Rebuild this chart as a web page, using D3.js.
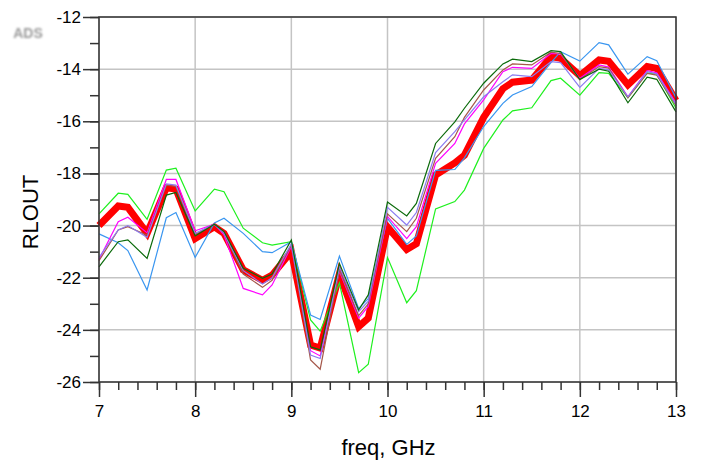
<!DOCTYPE html>
<html>
<head>
<meta charset="utf-8">
<title>RLOUT vs freq</title>
<script src="https://d3js.org/d3.v7.min.js"></script>
<style>
  body { margin: 0; background: #fff; }
  svg text { font-family: "Liberation Sans", Arial, sans-serif; fill: #000; }
</style>
</head>
<body>
<svg id="chart" width="703" height="465"></svg>
<script>
// frequency points (GHz)
var freq = [7.0,7.2,7.3,7.5,7.7,7.8,8.0,8.2,8.3,8.5,8.7,8.8,9.0,9.2,9.3,9.5,9.7,9.8,
            10.0,10.2,10.3,10.5,10.7,10.8,11.0,11.2,11.3,11.5,11.7,11.8,12.0,12.2,12.3,12.5,12.7,12.8,13.0];

// RLOUT traces (dB)
var rlRed = [-20.0,-19.25,-19.3,-20.3,-18.55,-18.6,-20.5,-20.05,-20.3,-21.7,-22.1,-21.9,-21.0,-24.58,-24.7,-21.85,-23.88,-23.55,
             -20.05,-20.92,-20.7,-18.06,-17.6,-17.3,-15.85,-14.75,-14.5,-14.42,-13.52,-13.58,-14.25,-13.65,-13.7,-14.6,-13.9,-13.97,-15.2];
var rlGreen = [-19.55,-18.76,-18.8,-19.76,-17.87,-17.8,-19.44,-18.6,-18.7,-20.1,-20.66,-20.75,-20.62,-23.62,-24.05,-22.2,-25.64,-25.32,
               -21.23,-22.96,-22.5,-19.36,-19.08,-18.64,-17.04,-15.95,-15.6,-15.48,-14.44,-14.35,-15.0,-14.13,-14.16,-15.1,-14.14,-14.19,-15.5];
var rlBlue = [-20.32,-20.66,-20.96,-22.47,-19.7,-19.5,-21.22,-19.9,-19.72,-20.3,-21.0,-21.04,-20.62,-23.43,-23.6,-21.17,-23.18,-22.8,
              -19.72,-20.72,-20.4,-17.88,-17.85,-17.4,-16.2,-15.31,-14.99,-14.67,-13.75,-13.33,-13.69,-12.98,-13.07,-14.19,-13.52,-13.68,-15.1];
var rlMagenta = [-21.3,-19.85,-19.68,-20.28,-18.23,-18.23,-20.2,-19.95,-20.36,-22.41,-22.66,-22.28,-20.8,-24.8,-25.0,-21.75,-23.55,-23.1,
                 -19.65,-20.5,-20.04,-17.61,-16.85,-16.1,-15.18,-14.1,-13.93,-13.97,-13.4,-13.42,-14.35,-13.84,-13.92,-15.06,-14.06,-14.14,-15.3];
var rlBrown = [-21.35,-20.17,-20.04,-20.37,-18.45,-18.5,-20.35,-19.95,-20.3,-21.86,-22.37,-22.1,-20.75,-25.15,-25.51,-21.7,-23.45,-23.0,
               -19.55,-20.23,-19.72,-17.42,-16.59,-15.85,-14.8,-14.03,-13.8,-13.84,-13.35,-13.4,-14.4,-13.9,-13.96,-15.1,-14.16,-14.23,-15.4];
var rlViolet = [-21.22,-20.17,-20.0,-20.45,-18.4,-18.45,-20.3,-19.95,-20.3,-21.73,-22.24,-22.0,-20.7,-24.97,-25.1,-21.58,-23.3,-22.9,
                -19.3,-19.98,-19.5,-17.2,-16.4,-15.95,-15.06,-14.48,-14.22,-14.29,-13.71,-13.75,-14.7,-13.97,-14.03,-15.06,-14.1,-14.18,-15.35];
var rlDkGreen = [-21.58,-20.62,-20.55,-21.26,-18.83,-18.73,-20.4,-19.95,-20.23,-21.64,-22.02,-21.86,-20.55,-24.65,-24.77,-21.45,-23.24,-22.66,
                 -19.1,-19.63,-19.15,-16.85,-16.02,-15.5,-14.54,-13.8,-13.62,-13.71,-13.29,-13.33,-14.4,-14.0,-14.08,-15.29,-14.31,-14.39,-15.64];

// axis ticks
var xTicks = [7, 8, 9, 10, 11, 12, 13];
var yTicks = [-26, -24, -22, -20, -18, -16, -14, -12];

var svg = d3.select("#chart"),
    margin = {left: 99, right: 27, top: 17, bottom: 83},
    width = +svg.attr("width") - margin.left - margin.right,
    height = +svg.attr("height") - margin.top - margin.bottom;

var x = d3.scaleLinear().domain([7, 13]).range([0, width]);
var y = d3.scaleLinear().domain([-26, -12]).range([height, 0]);

var g = svg.append("g")
    .attr("transform", "translate(" + margin.left + "," + margin.top + ")");

// grid
g.append("g").selectAll("line").data(xTicks).enter().append("line")
    .attr("x1", d => x(d)).attr("x2", d => x(d))
    .attr("y1", 0).attr("y2", height)
    .attr("stroke", "#c4c4c4").attr("stroke-width", 1.5);
g.append("g").selectAll("line").data(yTicks).enter().append("line")
    .attr("x1", 0).attr("x2", width)
    .attr("y1", d => y(d)).attr("y2", d => y(d))
    .attr("stroke", "#c4c4c4").attr("stroke-width", 1.5);

// minor ticks (no labels)
var xMinor = d3.range(7, 13.001, 0.2);
var yMinor = d3.range(-26, -11.999, 1);
g.append("g").attr("class", "ax")
    .attr("transform", "translate(0," + height + ")")
    .call(d3.axisBottom(x).tickValues(xMinor).tickSize(8).tickFormat(""));
g.append("g").attr("class", "ax")
    .call(d3.axisLeft(y).tickValues(yMinor).tickSize(9).tickFormat(""));

// major ticks with labels
g.append("g").attr("class", "ax major")
    .attr("transform", "translate(0," + height + ")")
    .call(d3.axisBottom(x).tickValues(xTicks).tickSize(15).tickPadding(8).tickFormat(d3.format("d")));
g.append("g").attr("class", "ax major")
    .call(d3.axisLeft(y).tickValues(yTicks).tickSize(16).tickPadding(2).tickFormat(d => d3.format("d")(d).replace("\u2212", "-")));

svg.selectAll(".ax path.domain").remove();
svg.selectAll(".ax line").attr("stroke", "#333").attr("stroke-width", 1.5);
svg.selectAll(".ax text").style("font-size", "17px").attr("fill", "#000");

// traces
var line = d3.line()
    .x((d, i) => x(freq[i]))
    .y(d => y(d));

var traces = [
  {v: rlRed, c: "#ff0000", w: 7},
  {v: rlGreen, c: "#1ef01e", w: 1.2},
  {v: rlBlue, c: "#3a96f0", w: 1.2},
  {v: rlMagenta, c: "#ff00ff", w: 1.2},
  {v: rlBrown, c: "#a5574a", w: 1.2},
  {v: rlViolet, c: "#8c7cf0", w: 1.2},
  {v: rlDkGreen, c: "#0a6a0a", w: 1.2}
];

g.append("g").selectAll("path").data(traces).enter().append("path")
    .attr("d", d => line(d.v))
    .attr("fill", "none")
    .attr("stroke", d => d.c)
    .attr("stroke-width", d => d.w)
    .attr("stroke-linejoin", "miter");

// frame
g.append("rect")
    .attr("x", 0).attr("y", 0)
    .attr("width", width).attr("height", height)
    .attr("fill", "none").attr("stroke", "#333").attr("stroke-width", 1.5);

// axis titles
svg.append("text")
    .attr("x", margin.left + width / 2 + 1)
    .attr("y", 455)
    .attr("text-anchor", "middle")
    .style("font-size", "22px")
    .text("freq, GHz");

svg.append("text")
    .attr("transform", "translate(38,212)rotate(-90)")
    .attr("text-anchor", "middle")
    .style("font-size", "22px")
    .text("RLOUT");

// blurred ADS mark
var defs = svg.append("defs");
defs.append("filter").attr("id", "blur")
    .append("feGaussianBlur").attr("stdDeviation", 1.1);
svg.append("text")
    .attr("x", 28).attr("y", 38)
    .attr("text-anchor", "middle")
    .attr("filter", "url(#blur)")
    .style("font-size", "14px")
    .style("font-weight", "bold")
    .style("fill", "#9a9a9a")
    .text("ADS");
</script>
</body>
</html>
